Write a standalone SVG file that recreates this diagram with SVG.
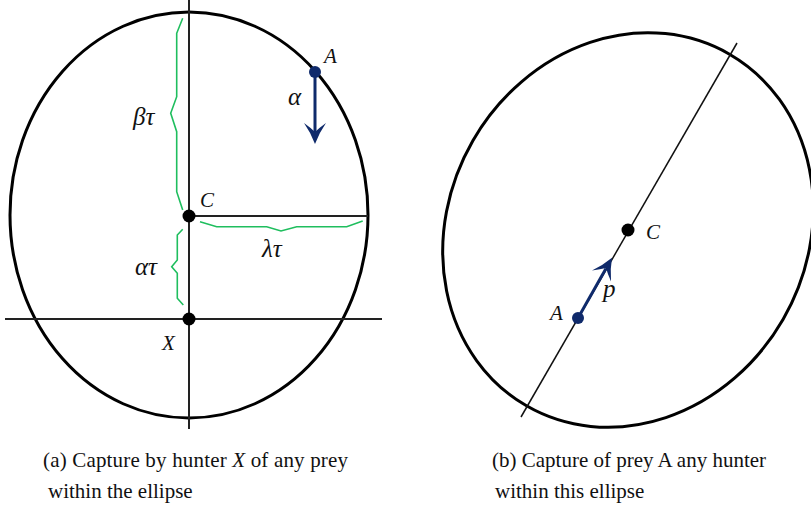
<svg xmlns="http://www.w3.org/2000/svg" width="811" height="508" viewBox="0 0 811 508">
<style>
.ell{fill:none;stroke:#000;stroke-width:3}
.ax{fill:none;stroke:#222;stroke-width:2}
.ax2{fill:none;stroke:#111;stroke-width:1.5}
.br{fill:none;stroke:#1fbe5e;stroke-width:1.6;stroke-linejoin:miter}
.nv{stroke:#0f2a6b;stroke-width:3;fill:none}
.hd{fill:#0f2a6b}
.m{font-family:"Liberation Serif","DejaVu Serif",serif;font-style:italic;font-size:21px;fill:#111}
.g{font-size:25px}
.cap{font-family:"Liberation Serif","DejaVu Serif",serif;font-size:21px;fill:#111}
</style>
<defs>
<path id="head" d="M0,0 Q-11,-4 -21,-11 Q-16,-4 -12,0 Q-16,4 -21,11 Q-11,4 0,0 Z"/>
</defs>
<g id="left">
<ellipse class="ell" cx="189" cy="215" rx="179" ry="203"/>
<g id="connectors-left">
<line class="ax" x1="189" y1="0" x2="189" y2="429"/>
<line class="ax" x1="5" y1="319" x2="382" y2="319"/>
<line class="ax" x1="189" y1="216" x2="368" y2="216"/>
<polyline class="br" points="182.7,18.3 176.7,33.3 176.7,96.7 170.7,113.3 176.7,131.7 176.7,191.7 182.7,210"/>
<polyline class="br" points="182.7,229.3 177.3,235 177.3,260 171.7,266.7 177.3,273.3 177.3,298.3 183.3,305"/>
<polyline class="br" points="200,221.7 216.7,226.7 266.7,226.7 281,231 296.7,226.7 346.7,226.7 362.7,221"/>
<line class="nv" x1="315" y1="72" x2="315" y2="134"/>
<use href="#head" class="hd" transform="translate(315,144) rotate(90)"/>
</g>
<g id="nodeC"><circle cx="189" cy="216" r="6.5"/><text class="m" x="200" y="207">C</text></g>
<g id="nodeX"><circle cx="189" cy="319" r="6.5"/><text class="m" x="162" y="350">X</text></g>
<g id="nodeA"><circle cx="315" cy="72" r="6" fill="#0f2a6b"/><text class="m" x="324" y="63">A</text></g>
<text class="m g" x="288" y="105">α</text>
<text class="m g" x="133" y="125">βτ</text>
<text class="m g" x="135" y="275">ατ</text>
<text class="m g" x="262" y="257">λτ</text>
<text class="cap" x="43" y="467" textLength="305" lengthAdjust="spacing">(a) Capture by hunter <tspan font-style="italic">X</tspan> of any prey</text>
<text class="cap" x="48" y="498">within the ellipse</text>
</g>
<g id="right">
<ellipse class="ell" cx="628" cy="230" rx="179" ry="203" transform="rotate(30 628 230)"/>
<g id="connectors-right">
<line class="ax2" x1="521" y1="417" x2="737" y2="43"/>
<line class="nv" x1="578" y1="318" x2="606" y2="268.5"/>
<use href="#head" class="hd" transform="translate(612,257.7) rotate(-60)"/>
</g>
<g id="nodeC2"><circle cx="628" cy="230" r="6.5"/><text class="m" x="646" y="239">C</text></g>
<g id="nodeA2"><circle cx="578" cy="318" r="6" fill="#0f2a6b"/><text class="m" x="550" y="320">A</text></g>
<text class="m g" x="603" y="297">p</text>
<text class="cap" x="492" y="467">(b) Capture of prey A any hunter</text>
<text class="cap" x="495" y="498">within this ellipse</text>
</g>
</svg>
